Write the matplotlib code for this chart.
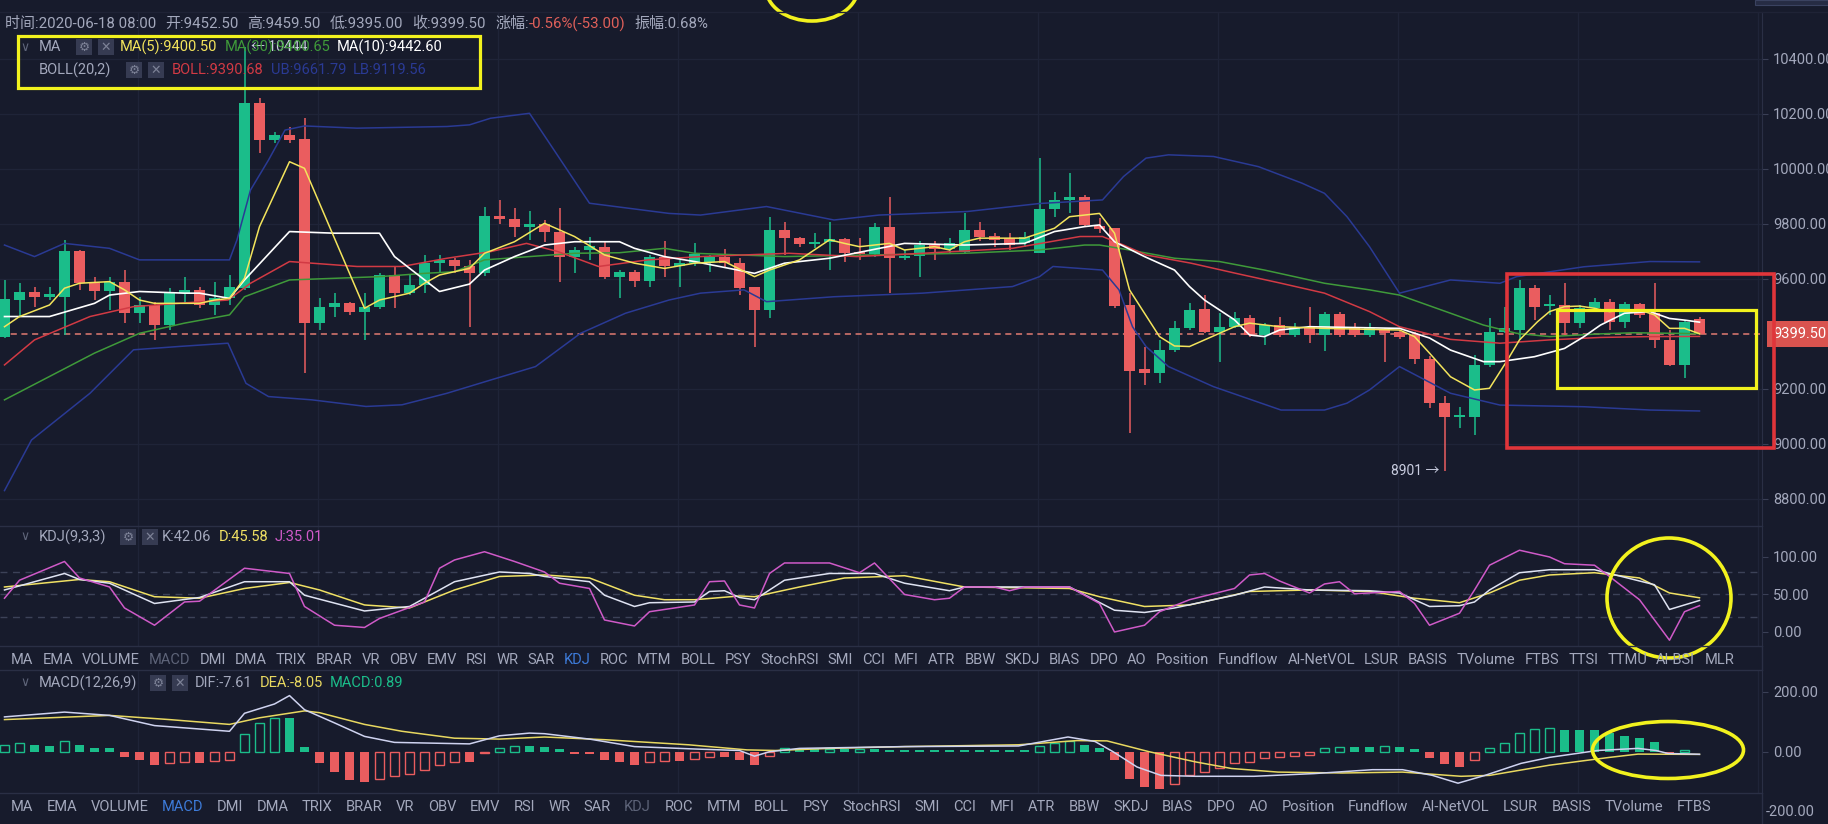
import numpy as np
import matplotlib
matplotlib.use('Agg')
import matplotlib.pyplot as plt
import matplotlib.transforms as mtransforms
from matplotlib.patches import Rectangle, Ellipse

# ---- candles ----
opens = [9390, 9523, 9551, 9535, 9535, 9703, 9584, 9557, 9590, 9475,
         9505, 9432, 9547, 9560, 9505, 9529, 9566, 10238, 10105, 10123,
         10108, 9439, 9497, 9514, 9481, 9499, 9614, 9548, 9578, 9657,
         9669, 9645, 9620, 9829, 9817, 9790, 9799, 9772, 9681, 9705,
         9717, 9608, 9625, 9594, 9681, 9645, 9657, 9663, 9679, 9657,
         9570, 9487, 9778, 9750, 9727, 9735, 9744, 9699, 9690, 9790,
         9675, 9683, 9723, 9708, 9699, 9778, 9756, 9748, 9729, 9695,
         9853, 9887, 9899, 9793, 9784, 9505, 9271, 9259, 9342, 9420,
         9489, 9408, 9426, 9457, 9396, 9432, 9396, 9426, 9396, 9472,
         9426, 9396, 9414, 9408, 9396, 9310, 9147, 9099, 9099, 9287,
         9408, 9414, 9566, 9503, 9505, 9441, 9493, 9517, 9444, 9509,
         9475, 9378, 9287, 9452.5]
highs = [9596, 9584, 9572, 9572, 9742, 9706, 9608, 9608, 9632, 9535,
         9517, 9566, 9608, 9572, 9590, 9614, 10444, 10257, 10135, 10154,
         10184, 9529, 9548, 9517, 9548, 9620, 9645, 9614, 9687, 9687,
         9675, 9669, 9863, 9887, 9857, 9845, 9815, 9857, 9717, 9754,
         9736, 9632, 9632, 9687, 9736, 9669, 9729, 9687, 9708, 9675,
         9570, 9826, 9808, 9754, 9766, 9808, 9748, 9748, 9802, 9899,
         9705, 9736, 9736, 9748, 9838, 9808, 9766, 9766, 9772, 10039,
         9917, 9986, 9905, 9820, 9784, 9548, 9354, 9378, 9445, 9511,
         9541, 9475, 9481, 9469, 9438, 9463, 9438, 9499, 9481, 9481,
         9440, 9438, 9420, 9414, 9405, 9320, 9175, 9135, 9323, 9456,
         9499, 9596, 9578, 9541, 9586, 9505, 9529, 9526, 9517, 9513,
         9586, 9414, 9450, 9459.5]
lows = [9385, 9463, 9499, 9523, 9396, 9560, 9523, 9487, 9438, 9438,
        9378, 9414, 9511, 9493, 9469, 9505, 9560, 10057, 10093, 10093,
        9257, 9414, 9463, 9469, 9378, 9490, 9493, 9540, 9548, 9620,
        9620, 9426, 9610, 9800, 9754, 9742, 9735, 9590, 9620, 9669,
        9600, 9529, 9572, 9572, 9608, 9572, 9645, 9626, 9639, 9541,
        9354, 9457, 9687, 9717, 9711, 9632, 9663, 9669, 9680, 9548,
        9669, 9608, 9669, 9693, 9690, 9736, 9717, 9705, 9717, 9695,
        9826, 9838, 9790, 9766, 9493, 9038, 9214, 9220, 9335, 9415,
        9402, 9299, 9420, 9390, 9360, 9390, 9390, 9366, 9336, 9390,
        9390, 9390, 9299, 9380, 9290, 9130, 8901, 9056, 9032, 9281,
        9402, 9378, 9450, 9469, 9396, 9420, 9487, 9414, 9420, 9456,
        9347, 9283, 9238, 9395]
closes = [9526, 9551, 9535, 9544, 9703, 9584, 9557, 9590, 9475, 9505,
          9432, 9547, 9560, 9505, 9529, 9572, 10238, 10105, 10123, 10105,
          9439, 9497, 9514, 9481, 9499, 9614, 9548, 9578, 9657, 9669,
          9645, 9620, 9829, 9817, 9790, 9799, 9772, 9681, 9705, 9720,
          9608, 9625, 9594, 9681, 9645, 9657, 9690, 9679, 9657, 9566,
          9487, 9778, 9750, 9727, 9735, 9744, 9695, 9690, 9790, 9675,
          9683, 9723, 9708, 9732, 9778, 9754, 9742, 9723, 9754, 9853,
          9887, 9899, 9796, 9780, 9502, 9266, 9257, 9342, 9420, 9487,
          9408, 9426, 9457, 9396, 9432, 9396, 9426, 9396, 9472, 9396,
          9396, 9420, 9402, 9390, 9310, 9150, 9099, 9102, 9287, 9408,
          9420, 9566, 9499, 9507, 9441, 9493, 9517, 9444, 9509, 9469,
          9378, 9287, 9444, 9399.5]

# ---- overlay lines on the price panel: (candle index, value) vertices ----
ma5_x = [0, 1, 3, 4, 5, 7, 8, 9, 10, 13, 14, 15, 16, 17, 19, 20, 24, 25, 27, 28,
         29, 31, 32, 34, 36, 37, 38, 40, 42, 44, 46, 48, 50, 51, 53, 55, 56, 57, 59, 60,
         62, 63, 64, 65, 67, 68, 70, 71, 73, 74, 75, 77, 78, 79, 82, 83, 85, 88, 93, 94,
         95, 96.4, 98, 99, 100.2, 101, 102.2, 103, 104, 105, 106, 107, 108, 109, 110, 111, 112, 113]
ma5_y = [9426, 9463, 9505, 9566, 9584, 9590, 9560, 9523, 9511, 9511, 9523, 9529, 9602, 9790, 10026, 10002, 9493, 9523, 9548, 9584,
         9614, 9638, 9693, 9735, 9802, 9778, 9754, 9687, 9657, 9638, 9657, 9663, 9608, 9632, 9669, 9742, 9729, 9717, 9729, 9705,
         9717, 9705, 9735, 9748, 9748, 9748, 9784, 9826, 9838, 9766, 9560, 9390, 9356, 9354, 9426, 9439, 9426, 9420, 9414, 9390,
         9330, 9244, 9196, 9202, 9305, 9378, 9444, 9481, 9499, 9501, 9493, 9481, 9487, 9487, 9469, 9420, 9420, 9400.5]
ma10_x = [0, 3, 6, 7, 9, 12, 13, 15, 16, 19, 22, 25, 26, 29, 31, 32, 34, 36, 38, 41,
          42, 44, 46, 50, 52, 55, 60, 64, 68, 70, 72, 73, 74, 76, 78, 79, 80, 82, 83, 84,
          85, 87, 93, 95, 96.4, 98.6, 99.7, 102, 104, 105.3, 106.4, 108, 109.7, 111, 112, 113]
ma10_y = [9463, 9463, 9511, 9541, 9554, 9548, 9548, 9529, 9596, 9772, 9766, 9766, 9681, 9554, 9581, 9632, 9681, 9723, 9735, 9735,
          9711, 9681, 9663, 9620, 9657, 9675, 9729, 9723, 9729, 9772, 9790, 9796, 9735, 9681, 9632, 9572, 9523, 9451, 9396, 9390,
          9414, 9426, 9420, 9385, 9341, 9299, 9299, 9317, 9347, 9390, 9432, 9475, 9481, 9456, 9450, 9442.6]
ma30_x = [0, 3, 6, 9, 12, 15, 16, 19, 22, 25, 28, 30, 32, 35, 38, 41, 44, 46, 52, 58,
          64, 69, 72, 73, 75, 78, 81, 84, 88, 91, 93, 96.4, 98.6, 100.8, 103, 106.4, 108.6, 113]
ma30_y = [9160, 9245, 9330, 9402, 9439, 9469, 9535, 9596, 9602, 9608, 9620, 9626, 9669, 9681, 9693, 9695, 9711, 9693, 9681, 9687,
          9693, 9705, 9723, 9723, 9705, 9675, 9663, 9632, 9584, 9560, 9541, 9475, 9432, 9402, 9390, 9400, 9404, 9400.65]
boll_x = [0, 2, 5.7, 8.6, 11.6, 14.9, 16.4, 19, 20.5, 23.5, 26.5, 29.5, 32.4, 34.8, 36.9, 39.6, 42.9, 46.4, 52.3, 56.8,
          61.2, 67.2, 71.7, 73.2, 74.6, 76.1, 79.1, 82.1, 85.1, 88, 91, 93, 96.4, 99.7, 103, 106.4, 109.7, 113]
boll_y = [9287, 9378, 9463, 9499, 9511, 9523, 9584, 9663, 9657, 9645, 9645, 9675, 9699, 9729, 9699, 9645, 9669, 9681, 9693, 9681,
          9693, 9711, 9754, 9754, 9723, 9687, 9657, 9620, 9584, 9548, 9481, 9426, 9380, 9366, 9378, 9387, 9390, 9390.68]
ub_x = [0, 2, 4, 7, 9, 15, 15.5, 16.4, 17.6, 18.7, 20, 23.5, 29.5, 31, 32.4, 35, 39, 44.3, 46.4, 50.8,
        55.3, 58.3, 64.2, 69, 73.2, 74.6, 76.1, 77.6, 80.6, 83.6, 86.5, 88, 89.5, 91, 93, 96.4, 99.7, 100.8, 105.3, 109.7, 113]
ub_y = [9723, 9681, 9729, 9711, 9669, 9669, 9742, 9923, 10032, 10141, 10156, 10148, 10154, 10160, 10184, 10202, 9875, 9838, 9832, 9863,
        9814, 9832, 9845, 9874, 9887, 9972, 10039, 10051, 10045, 10008, 9948, 9911, 9826, 9717, 9548, 9596, 9584, 9608, 9644, 9663, 9661.79]
lb_x = [0, 1.8, 5.7, 8.6, 11.6, 14.9, 16.1, 17.6, 20.5, 24.1, 26.5, 29.5, 32.4, 35.4, 38.4, 41.4, 44.3, 46.4, 49.3, 50.8,
        55.3, 61.2, 67.2, 69, 69.9, 73.2, 74.3, 75.2, 76.1, 77.6, 80.6, 85.1, 88, 89.5, 91, 93, 96.4, 99.7, 105.3, 109.7, 113]
lb_y = [8830, 9014, 9184, 9342, 9354, 9366, 9220, 9172, 9160, 9136, 9142, 9184, 9232, 9281, 9402, 9475, 9523, 9548, 9560, 9517,
        9535, 9548, 9572, 9608, 9645, 9632, 9560, 9426, 9354, 9281, 9208, 9123, 9123, 9148, 9196, 9281, 9184, 9141, 9135, 9123, 9119.56]

# ---- KDJ(9,3,3) ----
k_x = [0, 4, 5, 7, 10, 13, 16, 19, 20, 24, 27, 29, 30, 33, 35, 36, 39, 40, 42, 43,
       46, 47, 48, 49, 50, 52, 55, 58, 60, 63, 64, 71, 74, 76, 78, 82, 84, 87, 91, 93,
       95, 97, 98, 99, 101, 103, 106, 107, 110, 111, 113]
k_y = [56, 78, 70, 65, 38, 46, 67, 67, 49, 28, 34, 56, 67, 80, 78, 74, 67, 49, 34, 39,
       40, 54, 55, 46, 43, 69, 78, 78, 65, 55, 60, 60, 29, 26, 32, 49, 60, 56, 55, 52,
       34, 35, 40, 56, 79, 83, 83, 78, 63, 30, 42.06]
d_x = [0, 5, 7, 10, 13, 16, 19, 21, 24, 27, 30, 33, 36, 39, 42, 44, 46, 49, 50, 53,
       56, 60, 64, 71, 73, 76, 79, 83, 87, 91, 94, 97, 99, 101, 103, 106, 109, 111, 113]
d_y = [60, 70, 67, 47, 45, 58, 66, 56, 36, 32, 56, 74, 76, 72, 49, 43, 43, 48, 47, 60,
       72, 75, 60, 58, 47, 34, 36, 54, 56, 54, 45, 39, 52, 69, 76, 79, 72, 52, 45.58]
j_x = [0, 1, 4, 5, 7, 8, 10, 12, 13, 16, 19, 20, 22, 24, 25, 28, 29, 30, 32, 34,
       36, 37, 39, 40, 42, 43, 46, 47, 48, 49, 50, 51, 52, 55, 57, 58, 60, 62, 63, 64,
       66, 67, 68, 71, 73, 74, 76, 77, 79, 82, 83, 84, 85, 87, 88, 89, 90, 93, 94, 95,
       97, 98, 99, 101, 103, 104, 106, 107, 109, 111, 112, 113]
j_y = [45, 69, 94, 72, 60, 32, 9, 40, 41, 85, 78, 34, 9, 6, 18, 40, 85, 96, 107, 94,
       80, 65, 58, 16, 8, 27, 36, 67, 68, 36, 32, 78, 92, 92, 79, 92, 50, 43, 45, 60,
       60, 55, 60, 60, 38, 0, 9, 27, 43, 58, 76, 78, 68, 52, 64, 67, 51, 54, 38, 9,
       25, 56, 89, 109, 100, 91, 89, 74, 43, -11, 27, 35.01]

# ---- MACD(12,26,9) ----
macd_hist = [24, 29, 24, 20, 37, 24, 12, 12,
             -16, -27, -44, -36, -33, -38, -30, -27,
             61, 97, 114, 114, 18,
             -38, -67, -93, -101, -89, -81, -75, -59, -44, -33, -33, -2,
             12, 20, 20, 18, 9,
             -7, -7, -27, -33, -44, -33, -30, -30, -25, -18, -18, -27, -44, -14,
             12, 10, 9, 10, 9, 10, 9, 8,
             8, 8, 8, 8, 8, 8, 8, 8, 8,
             20, 29, 35, 24, 12,
             -27, -89, -117, -123, -108, -78, -67, -52, -38, -33, -21, -18, -14, -10,
             12, 16, 16, 16, 20, 16, 9,
             -21, -41, -50, -27,
             12, 29, 63, 75, 80, 72, 72, 72, 63, 54, 46, 32,
             -7, 5, 0.89]
dif_x = [0, 4, 7, 10, 15, 16, 18, 19, 20, 22, 24, 26, 29, 31, 33, 35, 36, 39, 42, 46,
         49, 50, 51, 53, 60, 67.6, 70.9, 72.7, 73.9, 75.5, 77.1, 79.4, 83.3, 87.3, 91.2, 93.2, 95.2, 96.9, 98.7, 101.1,
         103, 106.2, 108.9, 110.1, 110.9, 113]
dif_y = [117, 133, 122, 88, 69, 129, 160, 188, 141, 97, 52, 32, 29, 27, 54, 63, 61, 43, 18, 10,
         5, -14, 1, 12, 18, 20, 50, 35, 1, -50, -78, -81, -81, -72, -59, -59, -78, -104, -78, -38,
         -18, 5, 12, 5, -5, -7.61]
dea_x = [0, 7, 11, 15, 17, 20, 21, 24, 26.5, 30, 33, 36, 40, 45.6, 49.5, 51.4, 55, 60, 67.6, 71.5,
         73.5, 76.3, 79.4, 81.8, 84.9, 89.2, 93.2, 97.1, 99, 103, 107, 108.9, 113]
dea_y = [108, 122, 108, 92, 114, 137, 131, 92, 69, 46, 43, 50, 41, 24, 7, 5, 12, 18, 24, 38,
         37, 1, -33, -55, -67, -70, -67, -81, -78, -44, -18, -7, -8.05]

tabs = ['MA', 'EMA', 'VOLUME', 'MACD', 'DMI', 'DMA', 'TRIX', 'BRAR', 'VR', 'OBV', 'EMV', 'RSI',
        'WR', 'SAR', 'KDJ', 'ROC', 'MTM', 'BOLL', 'PSY', 'StochRSI', 'SMI', 'CCI', 'MFI', 'ATR',
        'BBW', 'SKDJ', 'BIAS', 'DPO', 'AO', 'Position', 'Fundflow', 'AI-NetVOL', 'LSUR', 'BASIS',
        'TVolume', 'FTBS', 'TTSI', 'TTMU', 'AI-BSI', 'MLR']

# ---- styling ----
W, H = 1828, 824
BG = '#171b2c'
GRID = '#1f2438'
SEP = '#2a2f45'
TXT = '#a3a8bc'
UP, DOWN = '#1bbd8a', '#ea5d5f'
FONT = ['Roboto', 'Noto Sans CJK SC', 'DejaVu Sans']
plt.rcParams['font.family'] = FONT

fig = plt.figure(figsize=(W / 100, H / 100), dpi=100, facecolor=BG)


def frac(x0, y0, x1, y1):
    return [x0 / W, 1 - y1 / H, (x1 - x0) / W, (y1 - y0) / H]


XL = (-4.5 / 15, (1762 - 4.5) / 15)
GRID_X = np.arange(8.9, 117, 12.0)

ax = fig.add_axes(frac(0, 12, 1762, 526))
axk = fig.add_axes(frac(0, 526, 1762, 646))
axm = fig.add_axes(frac(0, 670, 1762, 793))
for a in (ax, axk, axm):
    a.set_facecolor(BG)
    a.set_xlim(*XL)
    for s in a.spines.values():
        s.set_visible(False)
    a.spines['right'].set_visible(True)
    a.spines['right'].set_color(SEP)
    a.set_xticks(GRID_X)
    a.tick_params(axis='x', length=0, labelbottom=False)
    a.grid(axis='x', color=GRID, lw=0.9)
    a.yaxis.tick_right()
    a.tick_params(axis='y', length=4, width=0.8, color='#3a3f55', pad=4,
                  labelsize=10.5, labelcolor=TXT)
    a.set_axisbelow(True)

# price panel
ax.set_ylim(8701.3, 10570.4)
ax.set_yticks([8800, 9000, 9200, 9600, 9800, 10000, 10200, 10400])
ax.set_yticklabels([f'{v:.2f}' for v in [8800, 9000, 9200, 9600, 9800, 10000, 10200, 10400]])
ax.grid(axis='y', color=GRID, lw=0.9)

idx = np.arange(len(opens))
o = np.array(opens, float)
c = np.array(closes, float)
hi = np.array(highs, float)
lo = np.array(lows, float)
col = np.where(c >= o, UP, DOWN)
body_lo = np.minimum(o, c)
body_h = np.maximum(np.abs(c - o), 7)
ax.vlines(idx, lo, hi, colors=col, lw=1.1, zorder=3)
ax.bar(idx, body_h, bottom=body_lo, width=0.68, color=col, zorder=3, lw=0)

ax.plot(ub_x, ub_y, color='#2a3a94', lw=1.1, zorder=4)
ax.plot(lb_x, lb_y, color='#2a3a94', lw=1.1, zorder=4)
ax.plot(ma30_x, ma30_y, color='#3f9a3a', lw=1.1, zorder=4)
ax.plot(boll_x, boll_y, color='#d23a44', lw=1.1, zorder=4)
ax.plot(ma10_x, ma10_y, color='#ffffff', lw=1.2, zorder=5)
ax.plot(ma5_x, ma5_y, color='#f3e45c', lw=1.1, zorder=5)

last = closes[-1]
ax.axhline(last, color='#e07b72', lw=1.1, ls=(0, (4, 3)), zorder=2)
btr = mtransforms.blended_transform_factory(ax.transAxes, ax.transData)
ax.text(1773 / 1762, last, f'{last:.2f}', transform=btr, ha='left', va='center',
        color='white', fontsize=10.5, clip_on=False, zorder=10,
        bbox=dict(boxstyle='square,pad=0.42', fc='#d9534f', ec='none'))
ax.annotate('← ' + f'{max(highs):.0f}', (int(np.argmax(highs)), max(highs)),
            xytext=(5, 0), textcoords='offset points', va='center', ha='left',
            color='#c9cde0', fontsize=10, zorder=8)
ilow = int(np.argmin(lows))
ax.annotate(f'{min(lows):.0f} →', (ilow, min(lows)), xytext=(-4, 0),
            textcoords='offset points', va='center', ha='right',
            color='#c9cde0', fontsize=10, zorder=8)

# KDJ panel
axk.set_ylim(-18.7, 141.3)
axk.set_yticks([0, 50, 100])
axk.set_yticklabels(['0.00', '50.00', '100.00'])
for lv in (20, 50, 80):
    axk.axhline(lv, color='#3c4258', lw=1, ls=(0, (5, 4)), zorder=1)
axk.plot(d_x, d_y, color='#f0e164', lw=1.1, zorder=3)
axk.plot(k_x, k_y, color='#dfe3f2', lw=1.1, zorder=3)
axk.plot(j_x, j_y, color='#cf5ac8', lw=1.1, zorder=3)

# MACD panel
axm.set_ylim(-136.7, 273.3)
axm.set_yticks([0, 200])
axm.set_yticklabels(['0.00', '200.00'])
hv = np.array(macd_hist, float)
prev = np.concatenate([[-1e9], hv[:-1]])
hcol = np.where(hv >= 0, UP, DOWN)
hollow = hv > prev
for i in idx:
    if hollow[i]:
        axm.bar(i, hv[i], width=0.66, facecolor='none', edgecolor=hcol[i], lw=1, zorder=3)
    else:
        axm.bar(i, hv[i], width=0.66, color=hcol[i], lw=0, zorder=3)
axm.plot(dea_x, dea_y, color='#e8d860', lw=1.1, zorder=4)
axm.plot(dif_x, dif_y, color='#cfd3f0', lw=1.1, zorder=4)
mtr = mtransforms.blended_transform_factory(axm.transAxes, axm.transData)
axm.text(1766 / 1762, -200, '-200.00', transform=mtr, ha='left', va='center',
         color=TXT, fontsize=10.5, clip_on=False)

# ---- overlay in pixel coordinates ----
ov = fig.add_axes([0, 0, 1, 1], facecolor='none')
ov.set_xlim(0, W)
ov.set_ylim(H, 0)
ov.axis('off')
ov.set_zorder(20)
fig.canvas.draw()
rend = fig.canvas.get_renderer()


def segs(x, y, parts, size=10.5):
    for s, cc, gap in parts:
        t = ov.text(x, y, s, color=cc, fontsize=size, va='center', ha='left')
        x += t.get_window_extent(renderer=rend).width + gap
    return x


def icons(x, y):
    for ch in ('⚙', '✕'):
        ov.add_patch(Rectangle((x, y - 8), 16, 16, fc='#363b52', ec='none'))
        ov.text(x + 8, y, ch, color='#7d8297', fontsize=9, ha='center', va='center',
                family='DejaVu Sans')
        x += 22


for yy in (526, 646, 670, 793):
    ov.plot([0, 1762], [yy, yy], color=SEP, lw=1)
ov.plot([1762, 1762], [646, 670], color=SEP, lw=1)
ov.plot([1762, 1762], [793, H], color=SEP, lw=1)
ov.plot([0, W], [12, 12], color='#1f2336', lw=1)
ov.add_patch(Rectangle((1755, 0), 73, 5, fc='#262c44', ec='#3a4260', lw=0.8))

segs(5, 24, [('时间:2020-06-18 08:00', TXT, 9), ('开:9452.50', TXT, 9), ('高:9459.50', TXT, 9),
             ('低:9395.00', TXT, 9), ('收:9399.50', TXT, 9), ('涨幅:', TXT, 0),
             ('-0.56%(-53.00)', '#e0605a', 9), ('振幅:0.68%', TXT, 0)], size=10.8)

ov.text(20, 47, '∨', color='#5f657a', fontsize=9, va='center', family='DejaVu Sans')
segs(39, 47, [('MA', TXT, 0)])
icons(76, 47)
segs(120, 47, [('MA(5):9400.50', '#f3e45c', 7), ('MA(30):9400.65', '#3f9a3a', 7),
               ('MA(10):9442.60', '#ffffff', 0)])
segs(39, 70, [('BOLL(20,2)', TXT, 0)])
icons(126, 70)
segs(172, 70, [('BOLL:9390.68', '#d23a44', 7), ('UB:9661.79', '#2a3a94', 7),
               ('LB:9119.56', '#2a3a94', 0)])

ov.text(20, 537, '∨', color='#5f657a', fontsize=9, va='center', family='DejaVu Sans')
segs(39, 537, [('KDJ(9,3,3)', TXT, 0)])
icons(120, 537)
segs(162, 537, [('K:42.06', TXT, 7), ('D:45.58', '#f0e164', 7), ('J:35.01', '#cf5ac8', 0)])

ov.text(20, 683, '∨', color='#5f657a', fontsize=9, va='center', family='DejaVu Sans')
segs(39, 683, [('MACD(12,26,9)', TXT, 0)])
icons(150, 683)
segs(195, 683, [('DIF:-7.61', TXT, 7), ('DEA:-8.05', '#e8d860', 7), ('MACD:0.89', '#1bbd8a', 0)])


def tab_row(words, y, x0, x1, colors):
    ts = [ov.text(0, y, w, fontsize=10.5, va='center', ha='left',
                  color=colors.get(w, TXT)) for w in words]
    ws = [t.get_window_extent(renderer=rend).width for t in ts]
    gap = (x1 - x0 - sum(ws)) / (len(ws) - 1)
    x = x0
    for t, w in zip(ts, ws):
        t.set_x(x)
        x += w + gap


tab_row(tabs, 660, 11, 1734, {'MACD': '#5d6378', 'KDJ': '#3d7bd9'})
tab_row(tabs[:36], 807, 11, 1711, {'MACD': '#3d7bd9', 'KDJ': '#5d6378'})

# annotation marks drawn on the screenshot
YEL = '#f2f21e'
ov.add_patch(Rectangle((18, 36), 462, 52, fill=False, ec=YEL, lw=2.3))
ov.add_patch(Rectangle((1507, 274), 267, 174, fill=False, ec='#e0353a', lw=2.6))
ov.add_patch(Rectangle((1557, 310), 199, 78, fill=False, ec=YEL, lw=2.3))
ov.add_patch(Ellipse((1669, 598), 124, 120, fill=False, ec=YEL, lw=2.6))
ov.add_patch(Ellipse((1668, 750), 151, 57, fill=False, ec=YEL, lw=2.6))
ov.add_patch(Ellipse((812, -12), 92, 66, fill=False, ec=YEL, lw=2.6))

fig.savefig('out.png', dpi=100, facecolor=BG)
